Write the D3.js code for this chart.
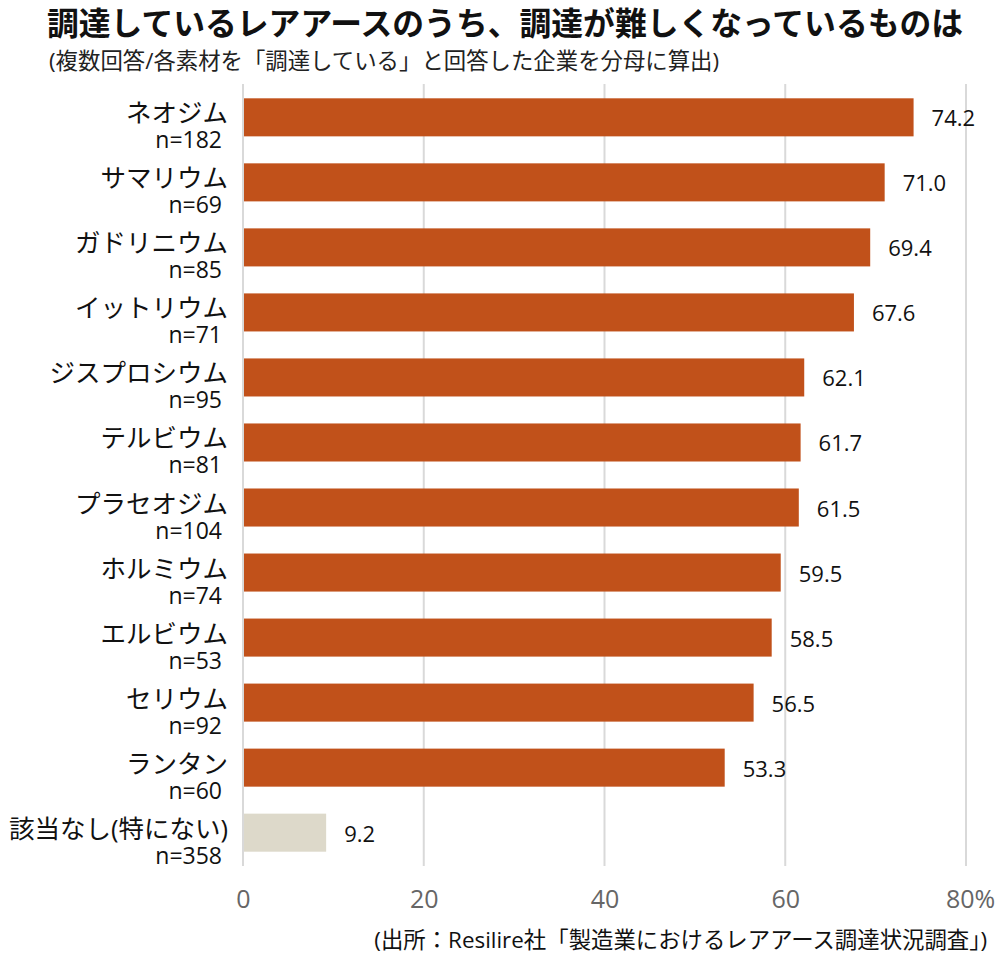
<!DOCTYPE html>
<html lang="ja">
<head>
    <meta charset="UTF-8">
    <title>レアアース調達</title>
    <script src="https://cdn.jsdelivr.net/npm/d3@7"></script>
    <style>
        body { margin: 0; background: #fff; }
        text { font-family: "Open Sans", "Noto Sans CJK JP", sans-serif; }
    </style>
</head>
<body>
    <svg id="mainsvg" width="1000" height="959"></svg>
    <script>
        const names = ["ネオジム","サマリウム","ガドリニウム","イットリウム","ジスプロシウム","テルビウム",
            "プラセオジム","ホルミウム","エルビウム","セリウム","ランタン","該当なし(特にない)"];
        const counts = [182,69,85,71,95,81,104,74,53,92,60,358];
        const values = [74.2,71.0,69.4,67.6,62.1,61.7,61.5,59.5,58.5,56.5,53.3,9.2];
        const ticks = [0,20,40,60,80];

        const svg = d3.select("#mainsvg");

        const xScale = d3.scaleLinear().domain([0,80]).range([243,966]);
        const yScale = d3.scaleBand().domain(names).range([84,866])
            .paddingInner(0.415).paddingOuter(0.22);

        // title
        svg.append("text").text("調達しているレアアースのうち、調達が難しくなっているものは")
            .attr("x",47).attr("y",35)
            .attr("font-size","31.8px").attr("font-weight","bold").attr("fill","#111");
        svg.append("text").text("(複数回答/各素材を「調達している」と回答した企業を分母に算出)")
            .attr("x",49).attr("y",69)
            .attr("font-size","22.4px").attr("fill","#222");

        // grid
        const grid = svg.append("g");
        ticks.forEach(t => {
            grid.append("line")
                .attr("x1",xScale(t)).attr("x2",xScale(t))
                .attr("y1",84).attr("y2",866)
                .attr("stroke","#d9d9d9").attr("stroke-width",2);
        });

        // axis (labels only)
        const xAxis = d3.axisBottom(xScale).tickValues(ticks)
            .tickSize(0).tickPadding(0)
            .tickFormat(d => d === 80 ? "80%" : d);
        const ax = svg.append("g").attr("transform","translate(0,908)").call(xAxis);
        ax.select(".domain").remove();
        ax.selectAll(".tick text")
            .attr("dy",0).attr("font-size","25px").attr("fill","#666")
            .attr("font-family","\"Open Sans\", sans-serif");
        ax.selectAll(".tick").filter(d => d === 80).select("text").attr("dx",4);

        // bars
        const rows = names.map((n,i) => ({name:n, n:counts[i], v:values[i]}));
        const g = svg.append("g");
        rows.forEach((d,i) => {
            const yc = yScale(d.name) + yScale.bandwidth()/2;
            g.append("rect")
                .attr("x",xScale(0)+1)
                .attr("y",yScale(d.name))
                .attr("width",xScale(d.v)-xScale(0)-1)
                .attr("height",yScale.bandwidth())
                .attr("fill", i === names.length-1 ? "#ddd9ca" : "#c1511a");
            g.append("text").text(d.v.toFixed(1))
                .attr("x",xScale(d.v)+18).attr("y",yc+9)
                .attr("font-size","22px").attr("fill","#111");
            g.append("text").text(d.name)
                .attr("x",228).attr("y",yc+5)
                .attr("text-anchor","end")
                .attr("font-size","25.5px").attr("fill","#111");
            g.append("text").text("n=" + d.n)
                .attr("x",222).attr("y",yc+31)
                .attr("text-anchor","end")
                .attr("font-size","23px").attr("fill","#111");
        });

        // source
        svg.append("text").text("(出所：Resilire社「製造業におけるレアアース調達状況調査」)")
            .attr("x",987).attr("y",948)
            .attr("text-anchor","end")
            .attr("font-size","22.4px").attr("fill","#111");
    </script>
</body>
</html>
